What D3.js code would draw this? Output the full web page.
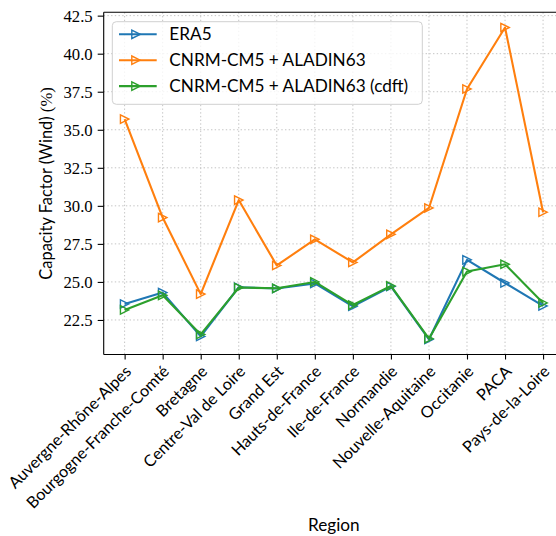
<!DOCTYPE html>
<html><head><meta charset="utf-8">
<script src="https://cdn.jsdelivr.net/npm/d3@7"></script>
<style>
html,body{margin:0;padding:0;background:#fff;}
svg{display:block;}
</style></head>
<body>
<svg id="chart" width="556" height="536"></svg>
<script>
const regions = ["Auvergne-Rhône-Alpes","Bourgogne-Franche-Comté","Bretagne","Centre-Val de Loire","Grand Est","Hauts-de-France","Ile-de-France","Normandie","Nouvelle-Aquitaine","Occitanie","PACA","Pays-de-la-Loire"];
const era5 = [23.55, 24.3, 21.42, 24.65, 24.57, 24.9, 23.4, 24.7, 21.22, 26.45, 24.93, 23.42];
const cnrm = [35.7, 29.23, 24.2, 30.38, 26.08, 27.8, 26.28, 28.13, 29.86, 37.68, 41.72, 29.58];
const cdft = [23.16, 24.12, 21.55, 24.63, 24.58, 25.0, 23.48, 24.74, 21.27, 25.68, 26.16, 23.62];
const yTicks = [22.5, 25.0, 27.5, 30.0, 32.5, 35.0, 37.5, 40.0, 42.5];
const seriesNames = ["ERA5", "CNRM-CM5 + ALADIN63", "CNRM-CM5 + ALADIN63 (cdft)"];
const seriesColors = ["#1f77b4", "#ff7f0e", "#2ca02c"];

const svg = d3.select("#chart");
const L = 103.7, R = 564, T = 12.3, B = 354.5;
const x = d3.scaleLinear().domain([-0.55, regions.length - 1 + 0.55]).range([L, R]);
const y = d3.scaleLinear().domain([20.23, 42.72]).range([B, T]);
const sans = "Lato, 'DejaVu Sans', sans-serif";
const serif = "'Liberation Serif', 'DejaVu Serif', serif";
const fs = 16.7;
const sfs = 17.2;

// grid
const grid = svg.append("g").attr("stroke", "#c4c4c4").attr("stroke-width", 1).attr("stroke-dasharray", "1.4,2.3");
regions.forEach((r, i) => grid.append("line").attr("x1", x(i)).attr("x2", x(i)).attr("y1", T).attr("y2", B));
yTicks.forEach(v => grid.append("line").attr("x1", L).attr("x2", R).attr("y1", y(v)).attr("y2", y(v)));

// axes
const xAxis = d3.axisBottom(x).tickValues(d3.range(regions.length)).tickFormat(i => regions[i]).tickSize(5).tickSizeOuter(0);
const gx = svg.append("g").attr("transform", `translate(0,${B})`).call(xAxis);
gx.select(".domain").remove();
gx.selectAll(".tick line").attr("stroke", "#000").attr("stroke-width", 1.1);
gx.selectAll(".tick text")
  .attr("font-family", sans).attr("font-size", 16.2).attr("fill", "#000")
  .attr("text-anchor", "end")
  .attr("dy", null).attr("y", null)
  .attr("transform", "translate(7,18) rotate(-45)");

const yAxis = d3.axisLeft(y).tickValues(yTicks).tickFormat(d3.format(".1f")).tickSize(6).tickSizeOuter(0);
const gy = svg.append("g").attr("transform", `translate(${L},0)`).call(yAxis);
gy.select(".domain").remove();
gy.selectAll(".tick line").attr("stroke", "#000").attr("stroke-width", 1.1);
gy.selectAll(".tick text").attr("font-family", serif).attr("font-size", fs).attr("fill", "#000").attr("x", -11).attr("dy", "0.33em");

// spines
svg.append("line").attr("x1", L).attr("x2", L).attr("y1", T).attr("y2", B).attr("stroke", "#000").attr("stroke-width", 1.1);
svg.append("line").attr("x1", L).attr("x2", R).attr("y1", B).attr("y2", B).attr("stroke", "#000").attr("stroke-width", 1.1);
svg.append("line").attr("x1", L).attr("x2", R).attr("y1", T).attr("y2", T).attr("stroke", "#000").attr("stroke-width", 1.1);
svg.append("line").attr("x1", R).attr("x2", R).attr("y1", T).attr("y2", B).attr("stroke", "#000").attr("stroke-width", 1.1);

// series
const tri = s => `M${s},0L${-s},${s}L${-s},${-s}Z`;
const data = [era5, cnrm, cdft];
const line = d3.line().x((d, i) => x(i)).y(d => y(d));
data.forEach((vals, k) => {
  const g = svg.append("g");
  g.append("path").attr("d", line(vals)).attr("fill", "none").attr("stroke", seriesColors[k]).attr("stroke-width", 2.1).attr("stroke-linejoin", "round");
  g.selectAll("path.m").data(vals).join("path").attr("class", "m")
    .attr("d", tri(4.2)).attr("transform", (d, i) => `translate(${x(i)},${y(d)})`)
    .attr("fill", "none").attr("stroke", seriesColors[k]).attr("stroke-width", 1.4);
});

// legend
const lg = svg.append("g");
lg.append("rect").attr("x", 112.3).attr("y", 21.7).attr("width", 310).attr("height", 82.6).attr("rx", 4)
  .attr("fill", "#fff").attr("fill-opacity", 0.8).attr("stroke", "#d0d0d0").attr("stroke-width", 1);
seriesNames.forEach((n, k) => {
  const yy = 34.3 + k * 25.9;
  lg.append("line").attr("x1", 119).attr("x2", 156.7).attr("y1", yy).attr("y2", yy).attr("stroke", seriesColors[k]).attr("stroke-width", 2.1);
  lg.append("path").attr("d", tri(4.2)).attr("transform", `translate(136,${yy})`).attr("fill", "none").attr("stroke", seriesColors[k]).attr("stroke-width", 1.4);
  lg.append("text").attr("x", 169.3).attr("y", yy).attr("dy", "0.36em").attr("font-family", sans).attr("font-size", sfs).text(n);
});

// axis labels
svg.append("text").attr("x", (L + R) / 2).attr("y", 531).attr("text-anchor", "middle").attr("font-family", sans).attr("font-size", sfs).text("Region");
const yl = svg.append("text").attr("transform", `translate(52,${(T + B) / 2}) rotate(-90)`).attr("text-anchor", "middle").attr("font-family", sans).attr("font-size", 16.4);
yl.append("tspan").text("Capacity Factor (Wind) ");
yl.append("tspan").attr("font-family", serif).attr("font-size", fs).text("(%)");
</script>
</body></html>
